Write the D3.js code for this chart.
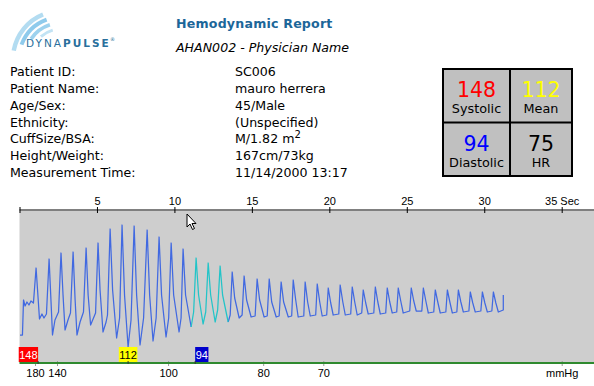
<!DOCTYPE html>
<html><head><meta charset="utf-8">
<script src="https://cdn.jsdelivr.net/npm/d3@7"></script>
<style>body{margin:0;background:#fff} svg{display:block}</style>
</head><body>
<svg id="c" width="594" height="386"></svg>
<script>
// ---------- data ----------
const reportTitle = "Hemodynamic Report";
const reportSubtitle = "AHAN002 - Physician Name";
const infoLabels = ["Patient ID:", "Patient Name:", "Age/Sex:", "Ethnicity:", "CuffSize/BSA:", "Height/Weight:", "Measurement Time:"];
const infoValues = ["SC006", "mauro herrera", "45/Male", "(Unspecified)", "M/1.82 m²", "167cm/73kg", "11/14/2000 13:17"];
const summaryNames = ["Systolic", "Mean", "Diastolic", "HR"];
const summaryValues = [148, 112, 94, 75];
const timeTicks = [0, 5, 10, 15, 20, 25, 30, 35];
const pressureTickTimes = [1.00, 2.42, 9.59, 15.73, 19.61, 35];
const pressureTickLabels = ["180", "140", "100", "80", "70", "mmHg"];
const markerTimes = [1.20, 7.01, 11.34];
const markerValues = [148, 112, 94];
const highlightWindow = [11.08, 13.47];
const waveT = [0.03,0.19,0.26,0.36,0.48,0.61,0.74,0.90,1.07,1.20,
1.29,1.45,1.58,1.74,1.91,2.03,2.13,2.29,2.52,2.68,
2.81,2.94,3.13,3.29,3.46,3.59,3.71,3.91,4.13,4.30,
4.43,4.59,4.75,4.91,5.07,5.20,5.39,5.59,5.68,5.85,
6.01,6.27,6.46,6.62,6.78,7.01,7.20,7.40,7.56,7.78,
8.01,8.24,8.40,8.62,8.82,9.01,9.17,9.46,9.63,9.79,
9.95,10.30,10.43,10.56,10.72,11.08,11.24,11.40,11.56,11.85,
12.02,12.18,12.34,12.63,12.79,12.95,13.11,13.47,13.60,13.73,
13.89,14.18,14.37,14.50,14.66,14.95,15.21,15.34,15.50,15.79,
15.99,16.12,16.28,16.57,16.76,16.89,17.05,17.35,17.57,17.67,
17.83,17.99,18.35,18.44,18.60,18.77,19.12,19.22,19.38,19.54,
19.83,19.93,20.09,20.25,20.61,20.70,20.87,21.03,21.38,21.48,
21.64,21.80,22.09,22.19,22.35,22.51,22.87,22.97,23.13,23.29,
23.64,23.74,23.90,24.06,24.35,24.45,24.61,24.77,25.19,25.29,
25.45,25.61,25.97,26.07,26.23,26.39,26.74,26.84,27.00,27.16,
27.52,27.62,27.78,27.94,28.23,28.33,28.49,28.65,29.01,29.10,
29.26,29.42,29.78,29.88,30.04,30.20,30.49,30.59,30.75,30.91,
31.23,31.23];
const waveV = [28,28,63,57,61,58,62,60,95,65,
44,49,45,49,104,63,28,43,51,110,
68,33,43,50,111,63,28,41,51,115,
68,38,44,50,120,73,31,41,48,134,
73,25,45,138,68,16,43,137,68,18,
45,133,68,22,45,126,68,26,45,120,
68,31,45,114,68,36,51,105,68,39,
51,100,68,41,53,97,68,41,48,91,
65,45,48,87,63,46,47,84,63,46,
47,84,61,46,47,81,61,46,47,83,
63,46,47,81,61,47,48,79,61,47,
48,75,60,48,49,78,61,48,49,76,
61,48,50,73,60,49,50,76,61,49,
50,75,61,50,51,75,62,50,52,75,
62,52,52,75,62,50,51,73,61,50,
51,73,61,50,51,73,61,51,52,71,
60,51,52,71,60,51,52,71,60,51,
53,68];

// ---------- drawing ----------
const svg = d3.select("#c");
const sans = "'DejaVu Sans', Verdana, sans-serif";
const arial = "'Liberation Sans', Arial, sans-serif";

// logo
const logo = svg.append("g");
const arcGen = d3.arc();
const logoArcs = [
  {r: 48, a0: -80, a1: -22, w: 2.2, c: "#b3dcf1"},
  {r: 42, a0: -70, a1: -20, w: 2.0, c: "#8fcbec"},
  {r: 36, a0: -56, a1: -18, w: 1.8, c: "#9dd2ee"},
  {r: 30, a0: -42, a1: -16, w: 1.5, c: "#c2e3f4"}
];
logoArcs.forEach(d => {
  logo.append("path")
    .attr("transform", "translate(61,59)")
    .attr("d", arcGen({innerRadius: d.r - d.w, outerRadius: d.r + d.w,
      startAngle: d.a0 * Math.PI / 180, endAngle: d.a1 * Math.PI / 180, cornerRadius: d.w}))
    .attr("fill", d.c);
});
const logoText = logo.append("text").attr("x", 26).attr("y", 47)
  .attr("font-family", sans).attr("font-size", 10.5).attr("letter-spacing", 2.0)
  .attr("fill", "#2a6f9c");
logoText.append("tspan").text("DYNA");
logoText.append("tspan").attr("font-weight", "bold").text("PULSE");
logo.append("text").attr("x", 110).attr("y", 41).attr("font-family", sans)
  .attr("font-size", 5).attr("fill", "#2a6f9c").text("®");

// title
svg.append("text").attr("x", 176).attr("y", 28).attr("font-family", sans)
  .attr("font-weight", "bold").attr("font-size", 12.6).attr("letter-spacing", 0.2)
  .attr("fill", "#1c6699").text(reportTitle);
svg.append("text").attr("x", 176).attr("y", 52).attr("font-family", sans)
  .attr("font-style", "italic").attr("font-size", 12.6)
  .attr("fill", "#000").text(reportSubtitle);

// patient info
const rowY = d3.scaleLinear().domain([0, 6]).range([76, 177]);
infoLabels.forEach((l, i) => {
  svg.append("text").attr("x", 10).attr("y", rowY(i)).attr("font-family", sans)
    .attr("font-size", 12.6).attr("fill", "#000").text(l);
  const v = infoValues[i];
  const t = svg.append("text").attr("x", 235).attr("y", rowY(i)).attr("font-family", sans)
    .attr("font-size", 12.6).attr("fill", "#000");
  if (v.includes("²")) {
    t.append("tspan").text(v.replace("²", ""));
    t.append("tspan").attr("dy", -5).attr("font-size", 10).text("2");
  } else t.text(v);
});

// summary box
const box = {x0: 443, x1: 572, y0: 69, y1: 176, xm: 510, ym: 122.5};
svg.append("rect").attr("x", box.x0).attr("y", box.y0).attr("width", box.x1 - box.x0)
  .attr("height", box.y1 - box.y0).attr("fill", "#c0c0c0").attr("stroke", "#000").attr("stroke-width", 2);
svg.append("line").attr("x1", box.xm).attr("x2", box.xm).attr("y1", box.y0).attr("y2", box.y1)
  .attr("stroke", "#000").attr("stroke-width", 2);
svg.append("line").attr("x1", box.x0).attr("x2", box.x1).attr("y1", box.ym).attr("y2", box.ym)
  .attr("stroke", "#000").attr("stroke-width", 2);
const summaryColors = ["#ff0000", "#ffff00", "#0000ff", "#000000"];
summaryValues.forEach((v, i) => {
  const cx = i % 2 === 0 ? (box.x0 + box.xm) / 2 : (box.xm + box.x1) / 2;
  const yb = i < 2 ? 0 : 53.5;
  svg.append("text").attr("x", cx).attr("y", 97 + yb).attr("text-anchor", "middle")
    .attr("font-family", sans).attr("font-size", 20.5).attr("fill", summaryColors[i]).text(v);
  svg.append("text").attr("x", cx).attr("y", 113 + yb).attr("text-anchor", "middle")
    .attr("font-family", sans).attr("font-size", 12.8).attr("fill", "#000").text(summaryNames[i]);
});

// chart
const x = d3.scaleLinear().domain([0, 35]).range([19.5, 561.7]);
const y = d3.scaleLinear().domain([0, 152]).range([363, 211]);
const plotRight = 594;

svg.append("rect").attr("x", x(0)).attr("y", y(152)).attr("width", plotRight - x(0))
  .attr("height", y(0) - y(152)).attr("fill", "#cecece");

// top time axis
const topAxis = svg.append("g").attr("transform", `translate(0,${y(152) - 1})`)
  .call(d3.axisTop(x).tickValues(timeTicks).tickSizeInner(3).tickSizeOuter(0)
    .tickFormat(d => d === 0 ? "" : (d === 35 ? "35 Sec" : d)));
topAxis.select(".domain").remove();
topAxis.selectAll(".tick line").attr("y1", 3).attr("stroke", "#000");
topAxis.selectAll(".tick text").attr("font-family", arial).attr("font-size", 11)
  .attr("fill", "#000").attr("y", -5).attr("dy", 0);
topAxis.append("line").attr("x1", x(0)).attr("x2", plotRight).attr("y1", 0).attr("y2", 0)
  .attr("stroke", "#000").attr("stroke-width", 1);

// waveform
const pts = waveT.map((t, i) => ({t, v: waveV[i]}));
const line = d3.line().x(d => x(d.t)).y(d => y(d.v));
const before = pts.filter(d => d.t <= highlightWindow[0]);
const inside = pts.filter(d => d.t >= highlightWindow[0] && d.t <= highlightWindow[1]);
const after = pts.filter(d => d.t >= highlightWindow[1]);
[[before, "#4169e1"], [after, "#4169e1"], [inside, "#22c4c8"]].forEach(([seg, c]) => {
  svg.append("path").attr("d", line(seg)).attr("fill", "none").attr("stroke", c)
    .attr("stroke-width", 1.25).attr("stroke-linejoin", "round");
});

// bottom pressure axis
const botAxis = svg.append("g").attr("transform", `translate(0,${y(0)})`)
  .call(d3.axisBottom(x).tickValues(pressureTickTimes).tickSizeInner(2).tickSizeOuter(0)
    .tickFormat((d, i) => pressureTickLabels[i]));
botAxis.select(".domain").remove();
botAxis.selectAll(".tick line").attr("y1", -2).attr("y2", 3).attr("stroke", "#9a9a9a");
botAxis.selectAll(".tick text").attr("font-family", arial).attr("font-size", 11)
  .attr("fill", "#000").attr("y", 14).attr("dy", 0);
botAxis.append("line").attr("x1", x(0)).attr("x2", plotRight).attr("y1", 0).attr("y2", 0)
  .attr("stroke", "#2f8a2f").attr("stroke-width", 2);

// markers
const markerFill = ["#ff0000", "#ffff00", "#0000cc"];
const markerText = ["#fff", "#000", "#fff"];
const markerAnchor = ["end", "middle", "start"];
markerValues.forEach((v, i) => {
  const mx = x(markerTimes[i]);
  const g = svg.append("g");
  const r = g.append("rect").attr("y", 347).attr("height", 15).attr("fill", markerFill[i]);
  const t = g.append("text").attr("y", 359).attr("font-family", arial).attr("font-size", 11)
    .attr("fill", markerText[i]).text(v);
  const w = t.node().getComputedTextLength() + 1;
  const left = markerAnchor[i] === "end" ? mx - w : markerAnchor[i] === "middle" ? mx - w / 2 : mx;
  r.attr("x", left).attr("width", w);
  t.attr("x", left + 0.5);
  g.append("line").attr("x1", mx).attr("x2", mx).attr("y1", 361).attr("y2", 364)
    .attr("stroke", "#333").attr("stroke-width", 1);
});

// mouse cursor (as in screenshot)
svg.append("path").attr("transform", "translate(187,214)")
  .attr("d", "M0,0 L0,13 L3,10 L5.5,15.5 L7.5,14.5 L5,9.5 L9,9.5 Z")
  .attr("fill", "#fff").attr("stroke", "#000").attr("stroke-width", 1);
</script>
</body></html>
